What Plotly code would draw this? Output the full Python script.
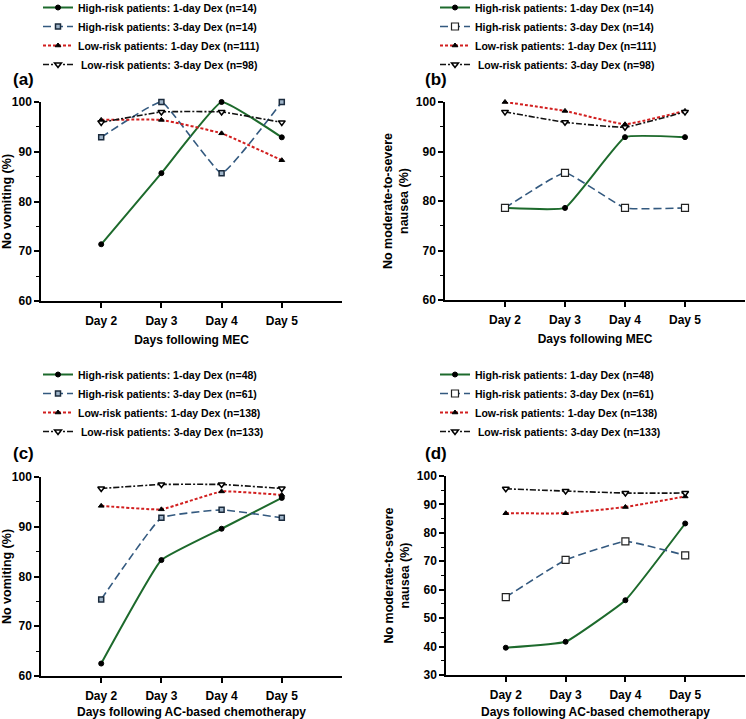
import plotly.graph_objects as go

days = ["Day 2", "Day 3", "Day 4", "Day 5"]

series_names_mec = [
    "High-risk patients: 1-day Dex (n=14)",
    "High-risk patients: 3-day Dex (n=14)",
    "Low-risk patients: 1-day Dex (n=111)",
    " Low-risk patients: 3-day Dex (n=98)",
]
series_names_ac = [
    "High-risk patients: 1-day Dex (n=48)",
    "High-risk patients: 3-day Dex (n=61)",
    "Low-risk patients: 1-day Dex (n=138)",
    " Low-risk patients: 3-day Dex (n=133)",
]

# (a) MEC - no vomiting
a_hr1 = [71.4, 85.7, 100.0, 92.9]
a_hr3 = [92.9, 100.0, 85.7, 100.0]
a_lr1 = [96.4, 96.4, 93.7, 88.3]
a_lr3 = [95.9, 98.0, 98.0, 95.9]
# (b) MEC - no moderate-to-severe nausea
b_hr1 = [78.6, 78.6, 92.9, 92.9]
b_hr3 = [78.6, 85.7, 78.6, 78.6]
b_lr1 = [100.0, 98.2, 95.5, 98.2]
b_lr3 = [98.0, 95.9, 94.9, 98.0]
# (c) AC - no vomiting
c_hr1 = [62.5, 83.3, 89.6, 95.8]
c_hr3 = [75.4, 91.8, 93.4, 91.8]
c_lr1 = [94.2, 93.5, 97.1, 96.4]
c_lr3 = [97.7, 98.5, 98.5, 97.7]
# (d) AC - no moderate-to-severe nausea
d_hr1 = [39.6, 41.7, 56.3, 83.3]
d_hr3 = [57.4, 70.5, 77.0, 72.1]
d_lr1 = [86.9, 86.9, 89.1, 92.8]
d_lr3 = [95.5, 94.7, 94.0, 94.0]

panel_labels = ["(a)", "(b)", "(c)", "(d)"]
x_titles = ["Days following MEC", "Days following MEC",
            "Days following AC-based chemotherapy", "Days following AC-based chemotherapy"]
y_titles = ["No vomiting (%)", "No moderate-to-severe<br>nausea (%)",
            "No vomiting (%)", "No moderate-to-severe<br>nausea (%)"]
y_ranges = [[60, 100], [60, 100], [60, 100], [30, 100]]

FONT = "Liberation Sans"
GREEN = "#1d6a2c"
BLUE = "#33597f"
RED = "#d21f1f"
BLACK = "#111111"

lines = [
    dict(color=GREEN, width=2, dash="solid"),
    dict(color=BLUE, width=1.6, dash="8px,4px"),
    dict(color=RED, width=2, dash="3px,2px"),
    dict(color=BLACK, width=1.6, dash="6px,2px,2px,2px"),
]
# markers for vomiting panels (a, c) and nausea panels (b, d)
markers_vom = [
    dict(symbol="circle", size=5, color="black", line=dict(color="black", width=1)),
    dict(symbol="square", size=5, color="#9fb4c8", line=dict(color="#1b2b3d", width=1.5)),
    dict(symbol="triangle-up", size=5, color="black", line=dict(color="black", width=1)),
    dict(symbol="triangle-down", size=6, color="white", line=dict(color="black", width=1.5)),
]
markers_nau = [
    dict(symbol="circle", size=5, color="black", line=dict(color="black", width=1)),
    dict(symbol="square", size=7, color="white", line=dict(color="#222222", width=1.2)),
    dict(symbol="triangle-up", size=5, color="black", line=dict(color="black", width=1)),
    dict(symbol="triangle-down", size=6, color="white", line=dict(color="black", width=1.5)),
]

panels = [
    (series_names_mec, [a_hr1, a_hr3, a_lr1, a_lr3], markers_vom),
    (series_names_mec, [b_hr1, b_hr3, b_lr1, b_lr3], markers_nau),
    (series_names_ac, [c_hr1, c_hr3, c_lr1, c_lr3], markers_vom),
    (series_names_ac, [d_hr1, d_hr3, d_lr1, d_lr3], markers_nau),
]

W, H = 746, 719
# plot-area pixel boxes: (left, right, top, bottom)
boxes = [(41, 342, 102, 301), (445, 745, 102, 300), (41, 342, 477, 676), (446, 745, 476, 675)]
legend_pos = [(38, -7), (435, -7), (38, 360), (435, 360)]
label_pos = [(23, 80), (436, 80), (23, 453), (436, 453)]

fig = go.Figure()
for i, (names, vals, mks) in enumerate(panels):
    ax = "" if i == 0 else str(i + 1)
    lg = "legend" if i == 0 else f"legend{i + 1}"
    for name, v, ln, mk in zip(names, vals, lines, mks):
        fig.add_trace(go.Scatter(
            x=days, y=v, name=name, mode="lines+markers",
            line=dict(shape="spline", smoothing=0.3, **ln),
            marker=mk, cliponaxis=False,
            xaxis="x" + ax, yaxis="y" + ax, legend=lg,
        ))

layout = dict(
    width=W, height=H, margin=dict(l=0, r=0, t=0, b=0, autoexpand=False),
    paper_bgcolor="white", plot_bgcolor="white",
    font=dict(family=FONT, size=11, color="black", weight="bold"),
    showlegend=True,
)
annotations = []
for i in range(4):
    l, r, t, b = boxes[i]
    ax = "" if i == 0 else str(i + 1)
    layout["xaxis" + ax] = dict(
        domain=[l / W, r / W], anchor="y" + ax, type="category", range=[-1, 4],
        showline=True, linecolor="black", linewidth=1.5, ticks="outside", ticklen=5,
        tickcolor="black", tickwidth=1.5, showgrid=False, zeroline=False,
        ticklabelstandoff=3,
        tickfont=dict(family=FONT, size=12, weight="bold"),
        title=dict(text=x_titles[i], standoff=8, font=dict(family=FONT, size=12, weight="bold")),
    )
    layout["yaxis" + ax] = dict(
        domain=[1 - b / H, 1 - t / H], anchor="x" + ax, range=y_ranges[i], dtick=10,
        showline=True, linecolor="black", linewidth=1.5, ticks="outside", ticklen=5,
        tickcolor="black", tickwidth=1.5, showgrid=False, zeroline=False,
        minor=dict(dtick=5, ticks="outside", ticklen=3, tickcolor="black", tickwidth=1),
        tickfont=dict(family=FONT, size=12, weight="bold"),
        title=dict(text=y_titles[i], standoff=4, font=dict(family=FONT, size=12.5, weight="bold")),
    )
    lx, ly = legend_pos[i]
    lg = "legend" if i == 0 else f"legend{i + 1}"
    layout[lg] = dict(
        x=lx / W, y=1 - ly / H, xanchor="left", yanchor="top",
        font=dict(family=FONT, size=10.5, weight="bold"),
        bgcolor="rgba(0,0,0,0)", tracegroupgap=0, itemwidth=30,
    )
    px, py = label_pos[i]
    annotations.append(dict(
        text=panel_labels[i], x=px / W, y=1 - py / H, xref="paper", yref="paper",
        showarrow=False, xanchor="center", yanchor="middle",
        font=dict(family=FONT, size=17, weight="bold"),
    ))
layout["annotations"] = annotations
fig.update_layout(**layout)
fig.write_html(
    "out.html",
    config={"displayModeBar": False},
    post_script="document.body.style.margin='0';document.body.style.overflow='hidden';",
)
